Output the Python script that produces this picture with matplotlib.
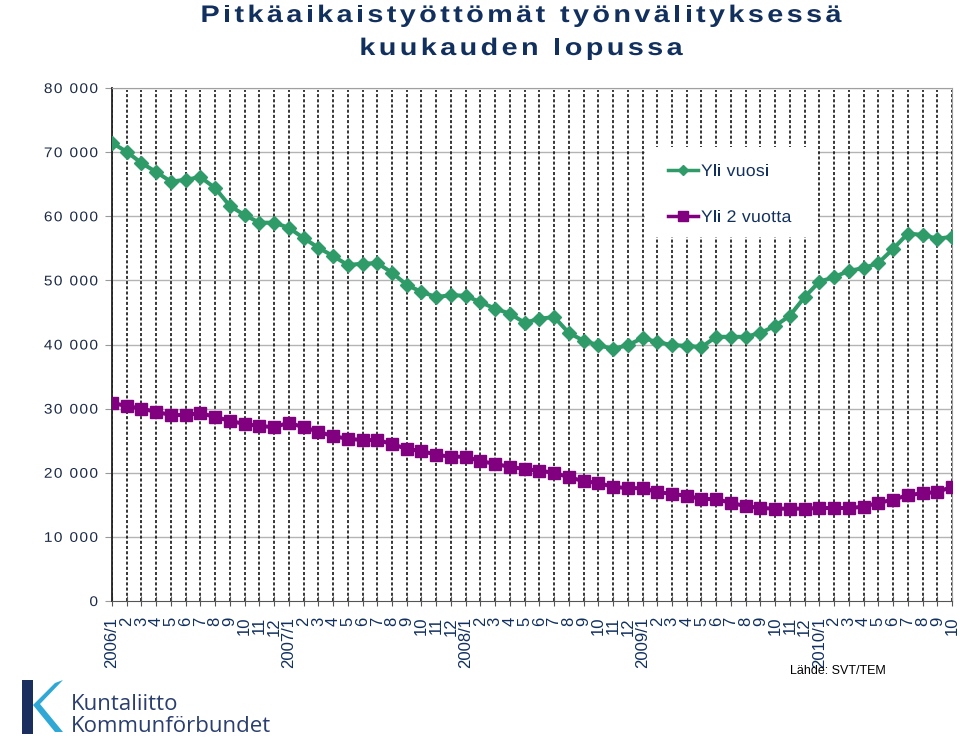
import matplotlib
matplotlib.use('Agg')
import matplotlib.pyplot as plt
from matplotlib.patches import Polygon, Rectangle, PathPatch
from matplotlib.font_manager import FontProperties, findfont, get_font
from matplotlib.textpath import TextPath
from matplotlib.transforms import Affine2D
import numpy as np

# Kuukaudet 2006/1 - 2010/10
months = ["2006/1", "2", "3", "4", "5", "6", "7", "8", "9", "10", "11", "12",
          "2007/1", "2", "3", "4", "5", "6", "7", "8", "9", "10", "11", "12",
          "2008/1", "2", "3", "4", "5", "6", "7", "8", "9", "10", "11", "12",
          "2009/1", "2", "3", "4", "5", "6", "7", "8", "9", "10", "11", "12",
          "2010/1", "2", "3", "4", "5", "6", "7", "8", "9", "10"]

yli_vuosi = [71450, 70050, 68300, 66900, 65400, 65700, 66100, 64400, 61600, 60200,
             59000, 59000, 58200, 56600, 55100, 53800, 52400, 52600, 52700, 51200,
             49300, 48200, 47400, 47700, 47600, 46600, 45600, 44800, 43400, 44000,
             44300, 41800, 40600, 39900, 39300, 39900, 41000, 40400, 39900, 39800,
             39600, 41200, 41200, 41200, 41800, 42900, 44500, 47400, 49800, 50500,
             51500, 51900, 52700, 54900, 57300, 57100, 56500, 56800]

yli_2_vuotta = [30900, 30400, 30000, 29500, 29000, 29000, 29300, 28700, 28100, 27600,
                27300, 27100, 27800, 27100, 26400, 25700, 25300, 25100, 25100, 24500,
                23700, 23400, 22800, 22500, 22500, 21800, 21400, 20900, 20600, 20300,
                20000, 19300, 18700, 18400, 17800, 17600, 17600, 17000, 16700, 16400,
                15900, 15900, 15300, 14800, 14500, 14400, 14400, 14400, 14500, 14500,
                14500, 14700, 15300, 15800, 16500, 16800, 17000, 17800]

y_ticks = [0, 10000, 20000, 30000, 40000, 50000, 60000, 70000, 80000]

c_green = '#2E9B68'
c_purple = '#800080'
c_navy = '#12305E'
c_text = '#1C2B45'
FAMILY = 'Liberation Sans'

plt.rcParams['font.family'] = [FAMILY, 'DejaVu Sans']

W, H = 960, 755
fig = plt.figure(figsize=(W / 100, H / 100), dpi=100)

ax = fig.add_axes([112 / W, 1 - 601 / H, 840 / W, 513 / H])
# overlay in pixel coordinates (y downwards) for legend, texts and logo
over = fig.add_axes([0, 0, 1, 1], zorder=10)
over.set_xlim(0, W)
over.set_ylim(H, 0)
over.axis('off')
over.patch.set_alpha(0)


def advances(s, size_px, weight='normal'):
    f = get_font(findfont(FontProperties(family=FAMILY, weight=weight)))
    f.set_size(size_px, 72)
    return [f.load_char(ord(c)).linearHoriAdvance / 65536 for c in s]


def wide_text(x, y, s, size_px, sx, gap, ha='left', weight='normal', color='black'):
    # stretched + letter-spaced text like the exported Excel chart; y = baseline (px)
    prop = FontProperties(family=FAMILY, weight=weight)
    adv = [a * sx for a in advances(s, size_px, weight)]
    total = sum(adv) + gap * (len(s) - 1)
    pos = x + {'left': 0, 'center': -total / 2, 'right': -total}[ha]
    for c, a in zip(s, adv):
        if c != ' ':
            tp = TextPath((0, 0), c, size=size_px, prop=prop)
            tp = Affine2D().scale(sx, -1).translate(pos, y).transform_path(tp)
            over.add_patch(PathPatch(tp, facecolor=color, edgecolor='none', zorder=8))
        pos += a + gap


x = np.arange(len(months))

# vertical dashed grid at every month
for xi in x:
    ax.axvline(xi, ymax=0.996, color='black', linewidth=1.1,
               linestyle=(0, (2.0, 1.4)), zorder=1)
for yt in y_ticks[1:]:
    ax.axhline(yt, color='#B4B4B4', linewidth=1.0, zorder=0.5)

ax.plot(x, yli_vuosi, color=c_green, linewidth=2.9, marker='D', markersize=6.8,
        label='Yli vuosi', zorder=5)
ax.plot(x, yli_2_vuotta, color=c_purple, linewidth=2.9, marker='s', markersize=8,
        label='Yli 2 vuotta', zorder=5)

ax.set_xlim(0, len(months) - 1)
ax.set_ylim(0, 80000)
ax.set_yticks(y_ticks)
ax.set_yticklabels([])
ax.set_xticks(x)
ax.set_xticklabels(months, rotation=90, fontsize=12, color=c_navy, va='top', ha='center')
ax.tick_params(axis='x', direction='inout', length=7, color='#555555', pad=8)
ax.tick_params(axis='y', direction='out', length=5, color='#999999')

for s in ['top', 'right']:
    ax.spines[s].set_color('#A0A0A0')
ax.spines['left'].set_color('#222222')
ax.spines['bottom'].set_color('#555555')
ax.spines['left'].set_linewidth(1.3)

# y tick labels
fig.canvas.draw()
for yt in y_ticks:
    ypx = H - ax.transData.transform((0, yt))[1]
    wide_text(98, ypx + 5, f"{yt:,}".replace(",", " "), 14, 1.1, 1.4, ha='right', color=c_text)

# legend box covering the grid
over.add_patch(Rectangle((645, 147), 173, 90, facecolor='white', edgecolor='none', zorder=2))
legend_items = [(c_green, 'D', 'Yli vuosi', 5.5, 170), (c_purple, 's', 'Yli 2 vuotta', 7.5, 216)]
for col, mk, lab, ms, ly in legend_items:
    over.plot([668, 698], [ly, ly], color=col, linewidth=2.5, zorder=3)
    over.plot([683], [ly], color=col, marker=mk, markersize=ms, zorder=4)
    wide_text(701, ly + 6, lab, 16.8, 1.05, 0.3, color=c_navy)

# title
wide_text(521, 22, "Pitkäaikaistyöttömät työnvälityksessä", 24, 1.2, 3.4, ha='center',
          weight='bold', color=c_navy)
wide_text(521, 55, "kuukauden lopussa", 24, 1.2, 3.4, ha='center', weight='bold', color=c_navy)

over.text(790, 671, "Lähde: SVT/TEM", fontsize=9, color='black', ha='left', va='center')

# logo
over.add_patch(Rectangle((22, 680), 11, 54, facecolor='#1B2F5E', edgecolor='none'))
over.add_patch(Polygon([(33, 705), (55, 683), (63, 680), (40, 704), (63, 732), (55, 732)],
                       closed=True, facecolor='#2FA8D6', edgecolor='none'))
over.text(71, 704, "Kuntaliitto", fontsize=16, color='#2B3F6E', family='Open Sans',
          va='center', ha='left')
over.text(71, 727, "Kommunförbundet", fontsize=16, color='#2B3F6E', family='Open Sans',
          va='center', ha='left')

fig.savefig('out.png', dpi=100, facecolor='white')
